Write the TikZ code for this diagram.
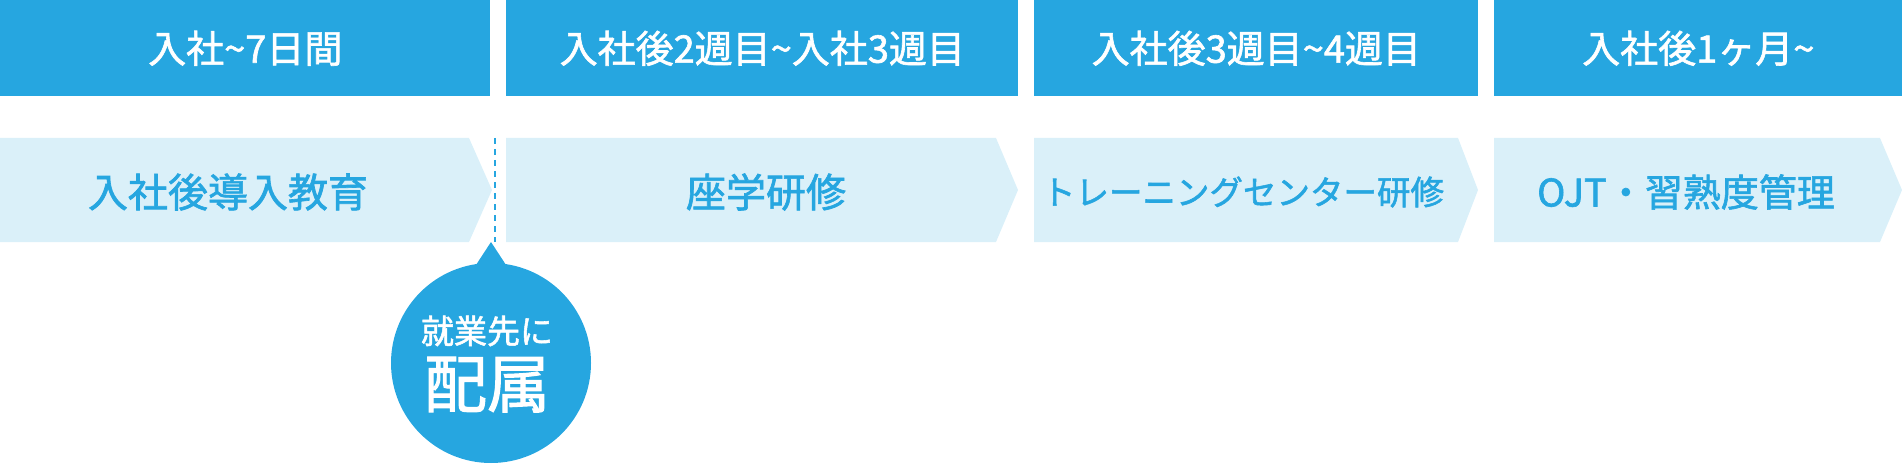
\documentclass[tikz,border=0pt]{standalone}
\usepackage{fontspec}
\setmainfont{Noto Sans CJK JP}[FakeBold=1.6]
\usetikzlibrary{positioning}
\definecolor{hdblue}{RGB}{38,166,224}
\definecolor{rowblue}{RGB}{218,240,249}
\newcommand{\tld}{{\char`\~}}

\begin{document}
\begin{tikzpicture}[x=1pt, y=-1pt, semithick,
    hd/.style={fill=hdblue, text=white, minimum height=96pt, inner sep=0pt, anchor=north west,
        font=\fontsize{38}{42}\selectfont},
    lbl/.style={text=hdblue, inner sep=0pt, font=\fontsize{40}{44}\selectfont},
    row/.style={fill=rowblue}]
            \useasboundingbox (0, 0) rectangle (1902, 465);
            % header boxes
            \node[hd, minimum width=490pt] (0) at (0, 0) {入社\tld 7日間};
            \node[hd, minimum width=512pt] (1) at (506, 0) {入社後2週目\tld 入社3週目};
            \node[hd, minimum width=444pt] (2) at (1034, 0) {入社後3週目\tld 4週目};
            \node[hd, minimum width=408pt] (3) at (1494, 0) {入社後1ヶ月\tld};
            % arrows
            \fill[row] (0, 138) -- (469, 138) -- (492, 190) -- (469, 242) -- (0, 242) -- cycle;
            \fill[row] (506, 138) -- (996, 138) -- (1018, 190) -- (996, 242) -- (506, 242) -- cycle;
            \fill[row] (1034, 138) -- (1458, 138) -- (1478, 190) -- (1458, 242) -- (1034, 242) -- cycle;
            \fill[row] (1494, 138) -- (1880, 138) -- (1902, 190) -- (1880, 242) -- (1494, 242) -- cycle;
            \node[lbl] (4) at (228, 192) {入社後導入教育};
            \node[lbl] (5) at (766, 192) {座学研修};
            \node[lbl, font=\fontsize{33.5}{37}\selectfont] (6) at (1243, 192) {トレーニングセンター研修};
            \node[lbl, font=\fontsize{38}{42}\selectfont] (7) at (1686, 192) {OJT・習熟度管理};
            % bubble
            \coordinate (8) at (495, 138);
            \coordinate (9) at (495, 242);
            \draw[hdblue, line width=2pt, dash pattern=on 6pt off 5pt] (8) -- (9);
            \node[circle, fill=hdblue, minimum size=200pt, inner sep=0pt] (10) at (491, 363) {};
            \fill[hdblue] (474, 268) -- (491, 242) -- (508, 268) -- cycle;
            \node[text=white, inner sep=0pt, font=\fontsize{33}{36}\selectfont] (11) at (487, 331) {就業先に};
            \node[text=white, inner sep=0pt, font=\fontsize{63}{66}\selectfont, below=10pt of 11] (12) {配属};
        \end{tikzpicture}
\end{document}
